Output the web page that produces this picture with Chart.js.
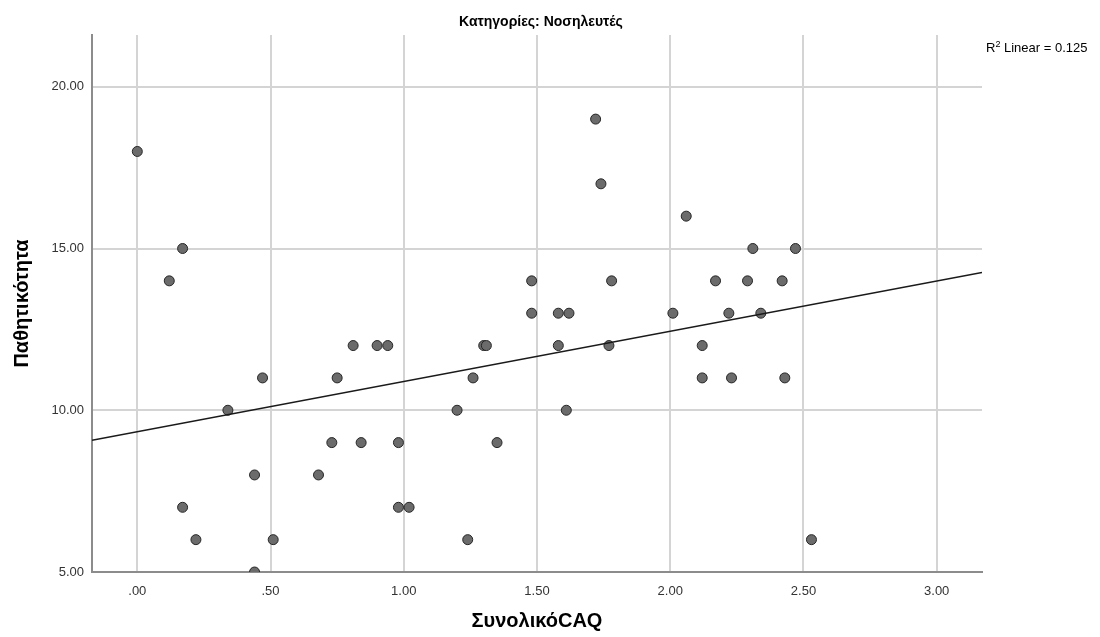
<!DOCTYPE html>
<html>
<head>
<meta charset="utf-8">
<title>Κατηγορίες: Νοσηλευτές</title>
<script src="https://cdn.jsdelivr.net/npm/chart.js@4/dist/chart.umd.min.js"></script>
<style>
    html, body { margin: 0; padding: 0; background: #fff; }
    #wrap { width: 1100px; height: 637px; }
</style>
</head>
<body>
<div id="wrap"><canvas id="scatter" width="1100" height="637"></canvas></div>
<script>
"use strict";

// values
var caqValues = [ 0.00, 0.12, 0.17, 0.17, 0.22, 0.34, 0.44, 0.44, 0.47, 0.51,
    0.68, 0.73, 0.75, 0.81, 0.84, 0.90, 0.94, 0.98, 0.98, 1.02,
    1.20, 1.24, 1.26, 1.30, 1.31, 1.35, 1.48, 1.48, 1.58, 1.62,
    1.58, 1.61, 1.72, 1.74, 1.77, 1.78, 2.01, 2.06, 2.12, 2.12,
    2.17, 2.22, 2.23, 2.29, 2.31, 2.34, 2.42, 2.43, 2.47, 2.53 ];
var passiveValues = [ 18, 14, 15, 7, 6, 10, 8, 5, 11, 6,
    8, 9, 11, 12, 9, 12, 12, 9, 7, 7,
    10, 6, 11, 12, 12, 9, 14, 13, 13, 13,
    12, 10, 19, 17, 12, 14, 13, 16, 11, 12,
    14, 13, 11, 14, 15, 13, 14, 11, 15, 6 ];
var fitX = [ -0.17, 3.17 ];
var fitY = [ 9.07, 14.26 ];
var xTickValues = [ 0, 0.5, 1, 1.5, 2, 2.5, 3 ];
var yTickValues = [ 5, 10, 15, 20 ];
var chartTitle = "Κατηγορίες: Νοσηλευτές";
var xTitle = "ΣυνολικόCAQ";
var yTitle = "Παθητικότητα";
var rSquared = "0.125";

function fmt(v) {
    let s = Number(v).toFixed(2);
    if (s.indexOf("0.") === 0) s = s.substring(1);
    return s;
}

function toPoints(xs, ys) {
    let pts = Array();
    for (let i = 0; i < xs.length; i++) pts.push({ x: xs[i], y: ys[i] });
    return pts;
}

// title over the plot and the R² note in the right margin
var notes = {
    id: "notes",
    afterDraw: function(chart) {
        let ctx = chart.ctx;
        let area = chart.chartArea;
        ctx.save();
        ctx.fillStyle = "#000";
        ctx.textBaseline = "alphabetic";
        ctx.font = "bold 14px 'Liberation Sans', Arial, sans-serif";
        ctx.textAlign = "center";
        ctx.fillText(chartTitle, (area.left + area.right) / 2 + 4, 26);

        ctx.textAlign = "left";
        let x = 986, y = 52;
        ctx.font = "13px 'Liberation Sans', Arial, sans-serif";
        ctx.fillText("R", x, y);
        x += ctx.measureText("R").width;
        ctx.font = "9px 'Liberation Sans', Arial, sans-serif";
        ctx.fillText("2", x, y - 5);
        x += ctx.measureText("2").width;
        ctx.font = "13px 'Liberation Sans', Arial, sans-serif";
        ctx.fillText(" Linear = " + rSquared, x, y);
        ctx.restore();
    }
};

new Chart(document.getElementById("scatter"), {
    type: "scatter",
    data: {
        datasets: [ {
            type: "line",
            label: "fit",
            data: toPoints(fitX, fitY),
            borderColor: "#1a1a1a",
            borderWidth: 1.5,
            pointRadius: 0,
            fill: false,
            order: 0
        }, {
            label: yTitle,
            data: toPoints(caqValues, passiveValues),
            backgroundColor: "#6b6b6b",
            borderColor: "#262626",
            borderWidth: 1,
            pointRadius: 5,
            order: 1
        } ]
    },
    options: {
        responsive: false,
        animation: false,
        devicePixelRatio: 1,
        layout: {
            padding: { top: 35, right: 118, left: 0, bottom: 0 }
        },
        plugins: {
            legend: { display: false },
            tooltip: { enabled: false }
        },
        scales: {
            x: {
                type: "linear",
                min: -0.17,
                max: 3.17,
                afterFit: function(scale) { scale.height = 65; },
                afterBuildTicks: function(scale) {
                    scale.ticks = xTickValues.map(function(v) { return { value: v }; });
                },
                ticks: {
                    callback: fmt,
                    padding: 12,
                    color: "#333",
                    font: { family: "'Liberation Sans', Arial, sans-serif", size: 13 }
                },
                grid: { color: "#d4d4d4", lineWidth: 2, drawTicks: false },
                border: { color: "#8c8c8c", width: 2 },
                title: {
                    display: true,
                    text: xTitle,
                    color: "#000",
                    padding: { top: 12 },
                    font: { family: "'Liberation Sans', Arial, sans-serif", size: 20, weight: "bold" }
                }
            },
            y: {
                type: "linear",
                min: 5,
                max: 21.6,
                afterFit: function(scale) { scale.width = 92; },
                afterBuildTicks: function(scale) {
                    scale.ticks = yTickValues.map(function(v) { return { value: v }; });
                },
                ticks: {
                    callback: fmt,
                    padding: 8,
                    color: "#333",
                    font: { family: "'Liberation Sans', Arial, sans-serif", size: 13 }
                },
                grid: { color: "#d4d4d4", lineWidth: 2, drawTicks: false },
                border: { color: "#8c8c8c", width: 2 },
                title: {
                    display: true,
                    text: yTitle,
                    color: "#000",
                    padding: { bottom: 0, top: 10 },
                    font: { family: "'Liberation Sans', Arial, sans-serif", size: 20, weight: "bold" }
                }
            }
        }
    },
    plugins: [ notes ]
});
</script>
</body>
</html>
